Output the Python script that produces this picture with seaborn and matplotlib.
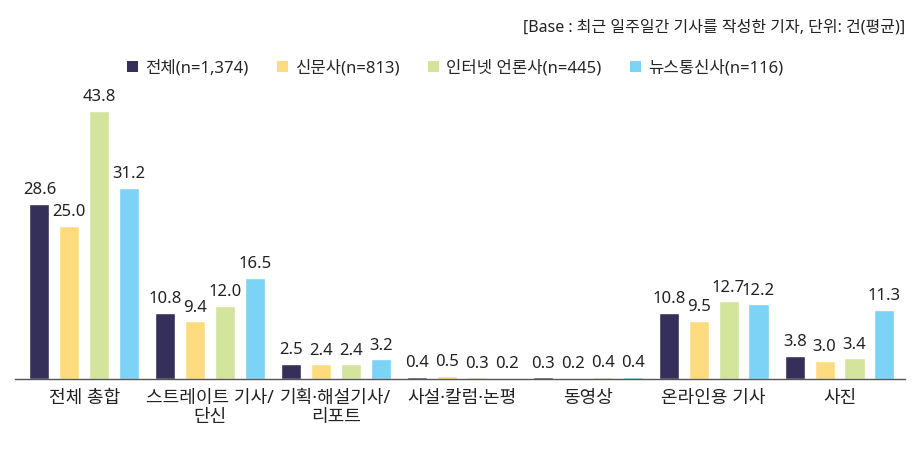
import matplotlib
matplotlib.use("Agg")
import matplotlib.pyplot as plt
import seaborn as sns
import pandas as pd
from matplotlib.patches import Patch

categories = ["전체 총합", "스트레이트 기사/\n단신", "기획·해설기사/\n리포트", "사설·칼럼·논평", "동영상", "온라인용 기사", "사진"]
series_names = ["전체(n=1,374)", "신문사(n=813)", "인터넷 언론사(n=445)", "뉴스통신사(n=116)"]
total = [28.6, 10.8, 2.5, 0.4, 0.3, 10.8, 3.8]
newspaper = [25.0, 9.4, 2.4, 0.5, 0.2, 9.5, 3.0]
internet = [43.8, 12.0, 2.4, 0.3, 0.4, 12.7, 3.4]
agency = [31.2, 16.5, 3.2, 0.2, 0.4, 12.2, 11.3]
colors = ["#35305a", "#fddc80", "#d3e49d", "#7dd3f5"]

rows = []
for name, vals in zip(series_names, [total, newspaper, internet, agency]):
    for c, v in zip(categories, vals):
        rows.append({"category": c, "series": name, "value": v})
df = pd.DataFrame(rows)

sns.set_theme(style="white")
plt.rcParams['font.family'] = ['Noto Sans', 'Noto Sans CJK KR', 'DejaVu Sans']

fig = plt.figure(figsize=(9.2, 4.51), dpi=100)
ax = fig.add_axes([15/920, 72/451, 890/920, 294/451])

sns.barplot(data=df, x="category", y="value", hue="series", order=categories,
            hue_order=series_names, palette=colors, width=0.95, gap=0.33,
            ax=ax, legend=False, saturation=1)

for cont in ax.containers:
    labels = [f"{v:.1f}" for v in cont.datavalues]
    ax.bar_label(cont, labels=labels, padding=4, fontsize=12, color="#222222")

ax.set_xlim(-0.55, 6.52)
ax.set_ylim(0, 48)
ax.set_xlabel("")
ax.set_ylabel("")
ax.set_yticks([])
for s in ["top", "right", "left"]:
    ax.spines[s].set_visible(False)
ax.spines["bottom"].set_color("#555555")
ax.spines["bottom"].set_linewidth(1.0)
ax.tick_params(axis="x", length=0, pad=7, labelsize=13, labelcolor="#222222")
for t in ax.get_xticklabels():
    t.set_linespacing(1.1)

fig.text(905/920, 1 - 28/451, "[Base : 최근 일주일간 기사를 작성한 기자, 단위: 건(평균)]",
         ha="right", va="center", fontsize=11.5, color="#222222")

handles = [Patch(facecolor=c, edgecolor="none") for c in colors]
fig.legend(handles, series_names, loc="center left", bbox_to_anchor=(120/920, 1 - 68/451),
           ncol=4, frameon=False, fontsize=12, handlelength=0.7, handleheight=0.7,
           handletextpad=0.4, columnspacing=1.7, borderaxespad=0)

fig.savefig("out.png", dpi=100)
